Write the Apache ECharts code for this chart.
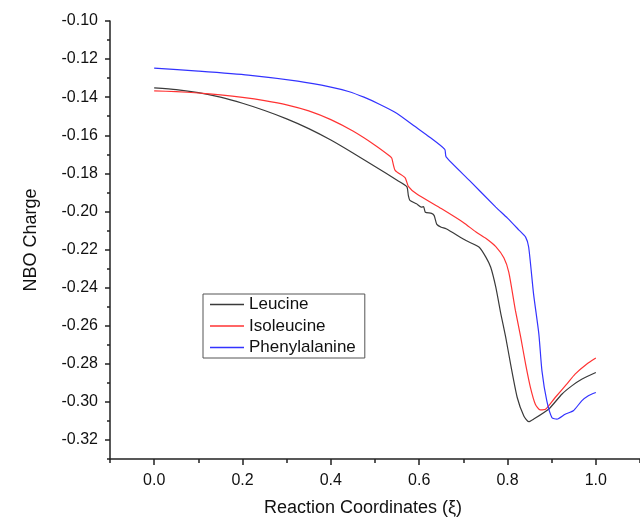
<!DOCTYPE html>
<html>
<head>
<meta charset="utf-8">
<script src="https://cdn.jsdelivr.net/npm/echarts@6/dist/echarts.min.js"></script>
<style>
  html, body { margin: 0; padding: 0; background: #fff; }
  #chart { width: 640px; height: 525px; }
</style>
</head>
<body>
<div id="chart"></div>
<script>
// NBO charge along the reaction coordinate for three amino acids
const leucineX = [0, 0.05, 0.1, 0.15, 0.2, 0.25, 0.3, 0.35, 0.4, 0.45, 0.5, 0.55, 0.572, 0.5755, 0.579, 0.594, 0.605, 0.61, 0.614, 0.628, 0.634, 0.64, 0.65, 0.661, 0.706, 0.736, 0.751, 0.762, 0.7735, 0.785, 0.796, 0.807, 0.822, 0.837, 0.848, 0.859, 0.893, 0.923, 0.9455, 0.968, 1.0];
const leucineY = [-0.1351, -0.1360, -0.1376, -0.1400, -0.1432, -0.1470, -0.1514, -0.1565, -0.1625, -0.1693, -0.1764, -0.1836, -0.1870, -0.1916, -0.1942, -0.1960, -0.1977, -0.1975, -0.2004, -0.2010, -0.2022, -0.2068, -0.2083, -0.2091, -0.2153, -0.2188, -0.2240, -0.2293, -0.2398, -0.2539, -0.2661, -0.2802, -0.2977, -0.3074, -0.3104, -0.3091, -0.3039, -0.2960, -0.2916, -0.2881, -0.2846];

const isoleucineX = [0, 0.05, 0.1, 0.15, 0.2, 0.25, 0.3, 0.35, 0.4, 0.45, 0.5, 0.534, 0.538, 0.5456, 0.568, 0.5755, 0.594, 0.65, 0.7, 0.7287, 0.75, 0.7735, 0.792, 0.803, 0.818, 0.83, 0.841, 0.852, 0.863, 0.874, 0.886, 0.908, 0.934, 0.953, 0.979, 1.0];
const isoleucineY = [-0.1367, -0.1371, -0.1378, -0.1388, -0.1401, -0.1418, -0.1440, -0.1472, -0.1518, -0.1578, -0.1652, -0.1710, -0.1720, -0.1784, -0.1822, -0.1868, -0.1907, -0.1985, -0.2058, -0.2108, -0.2140, -0.2185, -0.2245, -0.2320, -0.2521, -0.2661, -0.2802, -0.2925, -0.3012, -0.3042, -0.3039, -0.2977, -0.2907, -0.2854, -0.2802, -0.2770];

const phenylalanineX = [0, 0.1, 0.213, 0.325, 0.4, 0.44, 0.475, 0.51, 0.549, 0.59, 0.624, 0.658, 0.661, 0.7137, 0.7735, 0.8, 0.826, 0.841, 0.848, 0.859, 0.871, 0.878, 0.889, 0.9007, 0.912, 0.9305, 0.949, 0.968, 0.983, 1.0];
const phenylalanineY = [-0.1247, -0.1263, -0.1284, -0.1316, -0.1347, -0.1370, -0.1400, -0.1437, -0.1484, -0.1553, -0.1610, -0.1674, -0.1714, -0.1837, -0.1977, -0.2035, -0.2098, -0.2135, -0.2188, -0.2433, -0.2644, -0.2837, -0.2995, -0.3083, -0.3091, -0.3065, -0.3047, -0.2995, -0.2968, -0.2951];

const seriesNames = ['Leucine', 'Isoleucine', 'Phenylalanine'];

// axis ticks
const xMajorTicks = [0, 0.2, 0.4, 0.6, 0.8, 1.0];
const xMinorTicks = [-0.1, 0.1, 0.3, 0.5, 0.7, 0.9, 1.1];
const yMajorTicks = [-0.32, -0.30, -0.28, -0.26, -0.24, -0.22, -0.20, -0.18, -0.16, -0.14, -0.12, -0.10];
const yMinorTicks = [-0.33, -0.31, -0.29, -0.27, -0.25, -0.23, -0.21, -0.19, -0.17, -0.15, -0.13, -0.11];

const pairs = (xs, ys) => xs.map((x, i) => [x, ys[i]]);

const FONT = 'Liberation Sans, Arial, sans-serif';
const AXIS_COLOR = '#222';
const X_MIN = -0.1, X_MAX = 1.1, Y_MIN = -0.33, Y_MAX = -0.10;

const chart = echarts.init(document.getElementById('chart'), null, { renderer: 'canvas' });

const lineSeries = (name, xs, ys, color) => ({
  name, type: 'line', symbol: 'none', showSymbol: false,
  smooth: 0.2,
  data: pairs(xs, ys),
  lineStyle: { color, width: 1.2 },
  itemStyle: { color }
});

chart.setOption({
  animation: false,
  backgroundColor: '#ffffff',
  grid: { left: 110, right: -5, top: 21, bottom: 66, containLabel: false },
  legend: {
    orient: 'vertical',
    left: 203,
    top: 294,
    data: seriesNames,
    icon: 'rect',
    itemWidth: 34,
    itemHeight: 1.3,
    itemGap: 4.5,
    padding: [2, 9, 2, 7],
    borderColor: '#555',
    borderWidth: 1,
    borderRadius: 0,
    textStyle: { fontFamily: FONT, fontSize: 17, color: '#111', lineHeight: 17 }
  },
  xAxis: [
    {
      type: 'value', min: X_MIN, max: X_MAX,
      name: 'Reaction Coordinates (\u03BE)',
      nameLocation: 'middle', nameGap: 40,
      nameTextStyle: { fontFamily: FONT, fontSize: 18, color: '#111', padding: [0, 24, 0, 0] },
      axisLine: { show: true, onZero: false, lineStyle: { color: AXIS_COLOR, width: 1.5 } },
      axisTick: { show: true, customValues: xMajorTicks, length: 6, lineStyle: { color: AXIS_COLOR, width: 1.5 } },
      axisLabel: {
        customValues: xMajorTicks, margin: 14,
        fontFamily: FONT, fontSize: 16, color: '#111',
        formatter: v => v.toFixed(1)
      },
      splitLine: { show: false }
    },
    {
      type: 'value', min: X_MIN, max: X_MAX, position: 'bottom',
      axisLine: { show: false, onZero: false },
      axisTick: { show: true, customValues: xMinorTicks, length: 4, lineStyle: { color: AXIS_COLOR, width: 1.5 } },
      axisLabel: { show: false },
      splitLine: { show: false }
    }
  ],
  yAxis: [
    {
      type: 'value', min: Y_MIN, max: Y_MAX, position: 'left',
      name: 'NBO Charge',
      nameLocation: 'middle', nameGap: 70, nameRotate: 90,
      nameTextStyle: { fontFamily: FONT, fontSize: 18, color: '#111' },
      axisLine: { show: true, onZero: false, lineStyle: { color: AXIS_COLOR, width: 1.5 } },
      axisTick: { show: true, customValues: yMajorTicks, length: 5, lineStyle: { color: AXIS_COLOR, width: 1.5 } },
      axisLabel: {
        customValues: yMajorTicks, margin: 12,
        fontFamily: FONT, fontSize: 16, color: '#111',
        formatter: v => v.toFixed(2)
      },
      splitLine: { show: false }
    },
    {
      type: 'value', min: Y_MIN, max: Y_MAX, position: 'left',
      axisLine: { show: false, onZero: false },
      axisTick: { show: true, customValues: yMinorTicks, length: 3, lineStyle: { color: AXIS_COLOR, width: 1.5 } },
      axisLabel: { show: false },
      splitLine: { show: false }
    }
  ],
  series: [
    lineSeries(seriesNames[0], leucineX, leucineY, '#3a3a3a'),
    lineSeries(seriesNames[1], isoleucineX, isoleucineY, '#ff3333'),
    lineSeries(seriesNames[2], phenylalanineX, phenylalanineY, '#3333ff')
  ]
});
</script>
</body>
</html>
